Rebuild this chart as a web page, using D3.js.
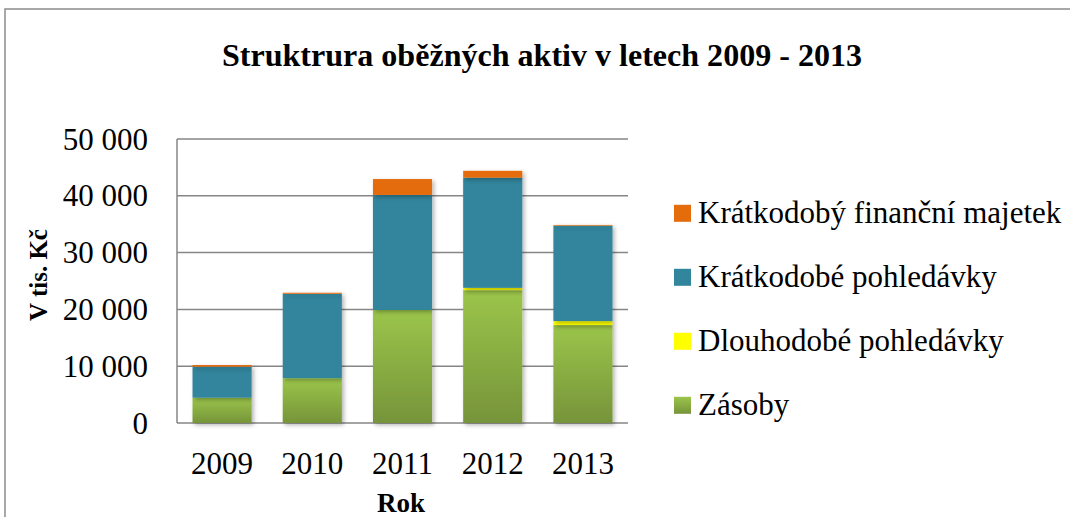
<!DOCTYPE html>
<html>
<head>
<meta charset="utf-8">
<script src="https://cdn.jsdelivr.net/npm/d3@7"></script>
<style>
  body { margin: 0; background: #fff; }
</style>
</head>
<body>
<div id="chart"></div>
<script>
// data (tis. Kč)
var years = ["2009", "2010", "2011", "2012", "2013"];
var zasoby = [4450, 7900, 19900, 23400, 17250];
var dlouhodobe = [0, 0, 0, 400, 700];
var kratkodobePohl = [5460, 14850, 20250, 19400, 16800];
var financni = [300, 180, 2800, 1200, 120];
var yTicks = [0, 10000, 20000, 30000, 40000, 50000];

var seriesNames = ["Zásoby", "Dlouhodobé pohledávky", "Krátkodobé pohledávky", "Krátkodobý finanční majetek"];
var seriesKeys = ["z", "d", "k", "f"];

var FONT = "'Liberation Serif'";

var W = 1070, H = 517;
var margin = { top: 139, right: 442, bottom: 94, left: 177 },
  width = W - margin.left - margin.right,
  height = H - margin.top - margin.bottom;

var rows = years.map(function (y, i) {
  return { year: y, z: zasoby[i], d: dlouhodobe[i], k: kratkodobePohl[i], f: financni[i] };
});

var svg = d3.select("#chart").append("svg")
  .attr("width", W)
  .attr("height", H);

// gradient + shadow
var defs = svg.append("defs");
var grad = defs.append("linearGradient")
  .attr("id", "greenGrad")
  .attr("x1", 0).attr("y1", 0).attr("x2", 0).attr("y2", 1);
grad.append("stop").attr("offset", "0%").attr("stop-color", "#9bc54a");
grad.append("stop").attr("offset", "100%").attr("stop-color", "#76943a");

var shadow = defs.append("filter").attr("id", "shadow")
  .attr("x", "-20%").attr("y", "-20%").attr("width", "140%").attr("height", "140%");
shadow.append("feDropShadow")
  .attr("dx", 2).attr("dy", 2).attr("stdDeviation", 2)
  .attr("flood-color", "#000").attr("flood-opacity", 0.3);

// outer frame
svg.append("rect")
  .attr("x", 5).attr("y", 9)
  .attr("width", W + 10).attr("height", H + 10)
  .attr("fill", "none")
  .attr("stroke", "#8c8c8c")
  .attr("stroke-width", 1.5);

var g = svg.append("g")
  .attr("transform", "translate(" + margin.left + "," + margin.top + ")");

var x = d3.scaleBand().domain(years).range([0, width]).paddingInner(0.345).paddingOuter(0.172);
var y = d3.scaleLinear().domain([0, 50000]).range([height, 0]);

var color = {
  z: "url(#greenGrad)",
  d: "#ffff00",
  k: "#31859c",
  f: "#e46c0a"
};

// gridlines
g.selectAll(".grid")
  .data(yTicks)
  .enter()
  .append("line")
  .attr("x1", 0)
  .attr("x2", width)
  .attr("y1", function (d) { return y(d); })
  .attr("y2", function (d) { return y(d); })
  .attr("stroke", "#868686")
  .attr("stroke-width", 1.5);

// left axis line
g.append("line")
  .attr("x1", 0).attr("x2", 0)
  .attr("y1", 0).attr("y2", height)
  .attr("stroke", "#868686")
  .attr("stroke-width", 1.5);

// y tick labels
var fmt = function (v) { return d3.format(",")(v).replace(/,/g, " "); };
g.selectAll(".ytick")
  .data(yTicks)
  .enter()
  .append("text")
  .attr("x", -29)
  .attr("y", function (d) { return y(d); })
  .attr("dy", "0.34em")
  .attr("text-anchor", "end")
  .style("font-family", FONT)
  .style("font-size", "31px")
  .text(fmt);

// stacked bars
var stacked = d3.stack().keys(seriesKeys)(rows);

var layers = g.selectAll(".layer")
  .data(stacked)
  .enter()
  .append("g")
  .attr("class", "layer")
  .attr("fill", function (d) { return color[d.key]; })
  .attr("filter", "url(#shadow)");

layers.selectAll("rect")
  .data(function (d) { return d.filter(function (p) { return p[1] - p[0] > 0; }); })
  .enter()
  .append("rect")
  .attr("x", function (d) { return x(d.data.year); })
  .attr("width", x.bandwidth())
  .attr("y", function (d) { return y(d[1]); })
  .attr("height", function (d) { return y(d[0]) - y(d[1]); });

// x tick labels
g.selectAll(".xtick")
  .data(years)
  .enter()
  .append("text")
  .attr("x", function (d) { return x(d) + x.bandwidth() / 2; })
  .attr("y", 474 - margin.top)
  .attr("text-anchor", "middle")
  .style("font-family", FONT)
  .style("font-size", "31px")
  .text(function (d) { return d; });

// axis titles
svg.append("text")
  .attr("x", 401)
  .attr("y", 512)
  .attr("text-anchor", "middle")
  .style("font-family", FONT)
  .style("font-size", "27px")
  .style("font-weight", "bold")
  .text("Rok");

svg.append("text")
  .attr("transform", "translate(47,275) rotate(-90)")
  .attr("text-anchor", "middle")
  .style("font-family", FONT)
  .style("font-size", "25px")
  .style("font-weight", "bold")
  .text("V tis. Kč");

// title
svg.append("text")
  .attr("x", 542)
  .attr("y", 66)
  .attr("text-anchor", "middle")
  .attr("textLength", 640)
  .attr("lengthAdjust", "spacingAndGlyphs")
  .style("font-family", FONT)
  .style("font-size", "31px")
  .style("font-weight", "bold")
  .text("Struktrura oběžných aktiv v letech 2009 - 2013");

// legend (top to bottom: reverse stack order)
var legendKeys = seriesKeys.slice().reverse();
var legendNames = seriesNames.slice().reverse();
var legend = svg.selectAll(".legend")
  .data(legendKeys)
  .enter()
  .append("g")
  .attr("class", "legend")
  .attr("transform", function (d, i) { return "translate(674," + (213.3 + i * 64) + ")"; });

legend.append("rect")
  .attr("x", 0)
  .attr("y", -8.5)
  .attr("width", 17)
  .attr("height", 17)
  .attr("fill", function (d) { return color[d]; });

legend.append("text")
  .attr("x", 24)
  .attr("y", 10)
  .style("font-family", FONT)
  .style("font-size", "31px")
  .text(function (d, i) { return legendNames[i]; });
</script>
</body>
</html>
